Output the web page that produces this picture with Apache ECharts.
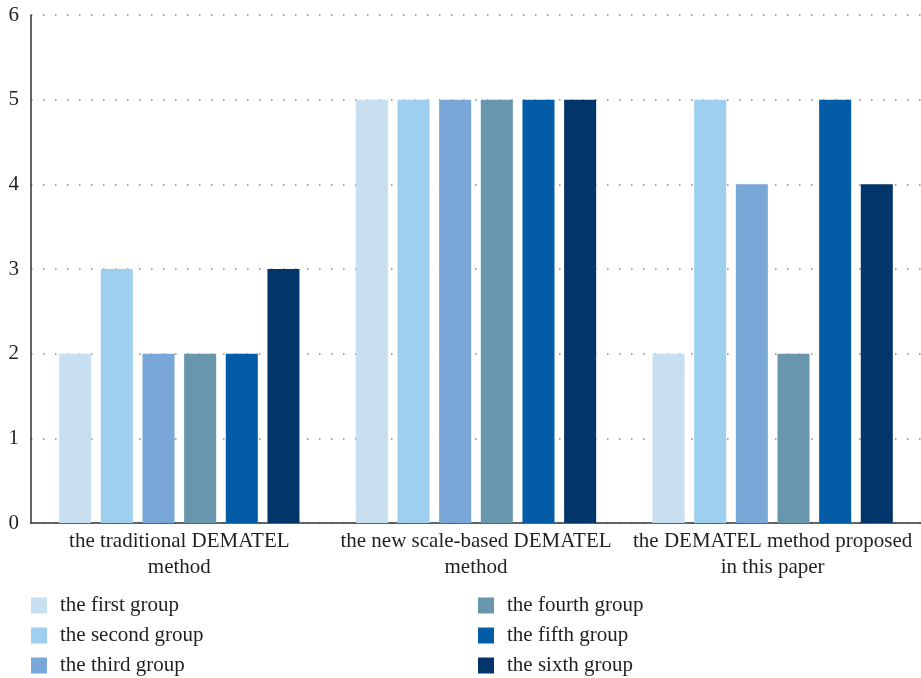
<!DOCTYPE html>
<html>
<head>
<meta charset="utf-8">
<script src="https://cdn.jsdelivr.net/npm/echarts@6/dist/echarts.min.js"></script>
<style>
  html, body { margin: 0; padding: 0; background: #fff; }
  #chart { width: 921px; height: 678px; }
</style>
</head>
<body>
<div id="chart"></div>
<script>
// Methods compared along the x axis
const categories = [
  'the traditional DEMATEL\nmethod',
  'the new scale-based DEMATEL\nmethod',
  'the DEMATEL method proposed\nin this paper'
];

// One series per expert group
const groupNames = [
  'the first group', 'the second group', 'the third group',
  'the fourth group', 'the fifth group', 'the sixth group'
];
const firstGroup  = [2, 5, 2];
const secondGroup = [3, 5, 5];
const thirdGroup  = [2, 5, 4];
const fourthGroup = [2, 5, 2];
const fifthGroup  = [2, 5, 5];
const sixthGroup  = [3, 5, 4];
const groupValues = [firstGroup, secondGroup, thirdGroup, fourthGroup, fifthGroup, sixthGroup];

const groupColors = ['#c8dff2', '#9fcfee', '#78a7d8', '#6896ad', '#035da6', '#02366a'];

const yTicks = { min: 0, max: 6, interval: 1 };

const serif = '"Liberation Serif", "DejaVu Serif", serif';
const textColor = '#231f20';

const series = groupNames.map((name, i) => ({
  name: name,
  type: 'bar',
  data: groupValues[i],
  barGap: '30%',
  barCategoryGap: '19%',
  itemStyle: { color: groupColors[i] }
}));

const legendBase = {
  orient: 'vertical',
  padding: 0,
  height: 100,
  itemWidth: 16,
  itemHeight: 16,
  itemGap: 9,
  icon: 'rect',
  textStyle: {
    fontFamily: serif, fontSize: 21, lineHeight: 20,
    color: textColor, padding: [0, 0, 0, 8]
  }
};

const chart = echarts.init(document.getElementById('chart'), null, { renderer: 'canvas' });
chart.setOption({
  animation: false,
  backgroundColor: '#fff',
  grid: { left: 31, right: 0, top: 15, bottom: 155, containLabel: false },
  legend: [
    Object.assign({}, legendBase, { left: 31, top: 595, data: groupNames.slice(0, 3) }),
    Object.assign({}, legendBase, { left: 478, top: 595, data: groupNames.slice(3, 6) })
  ],
  xAxis: {
    type: 'category',
    data: categories,
    axisLine: { lineStyle: { color: '#333', width: 1.5 } },
    axisTick: { show: false },
    axisLabel: {
      interval: 0,
      margin: 5,
      fontFamily: serif,
      fontSize: 21,
      lineHeight: 26,
      color: textColor
    }
  },
  yAxis: {
    type: 'value',
    min: yTicks.min,
    max: yTicks.max,
    interval: yTicks.interval,
    axisLine: { show: true, lineStyle: { color: '#333', width: 1.5 } },
    axisTick: { show: false },
    axisLabel: { margin: 12, fontFamily: serif, fontSize: 21, color: textColor },
    splitLine: { show: true, lineStyle: { color: '#8a8a8a', width: 1.5, type: [1.5, 10.5] } }
  },
  series: series
});
</script>
</body>
</html>
